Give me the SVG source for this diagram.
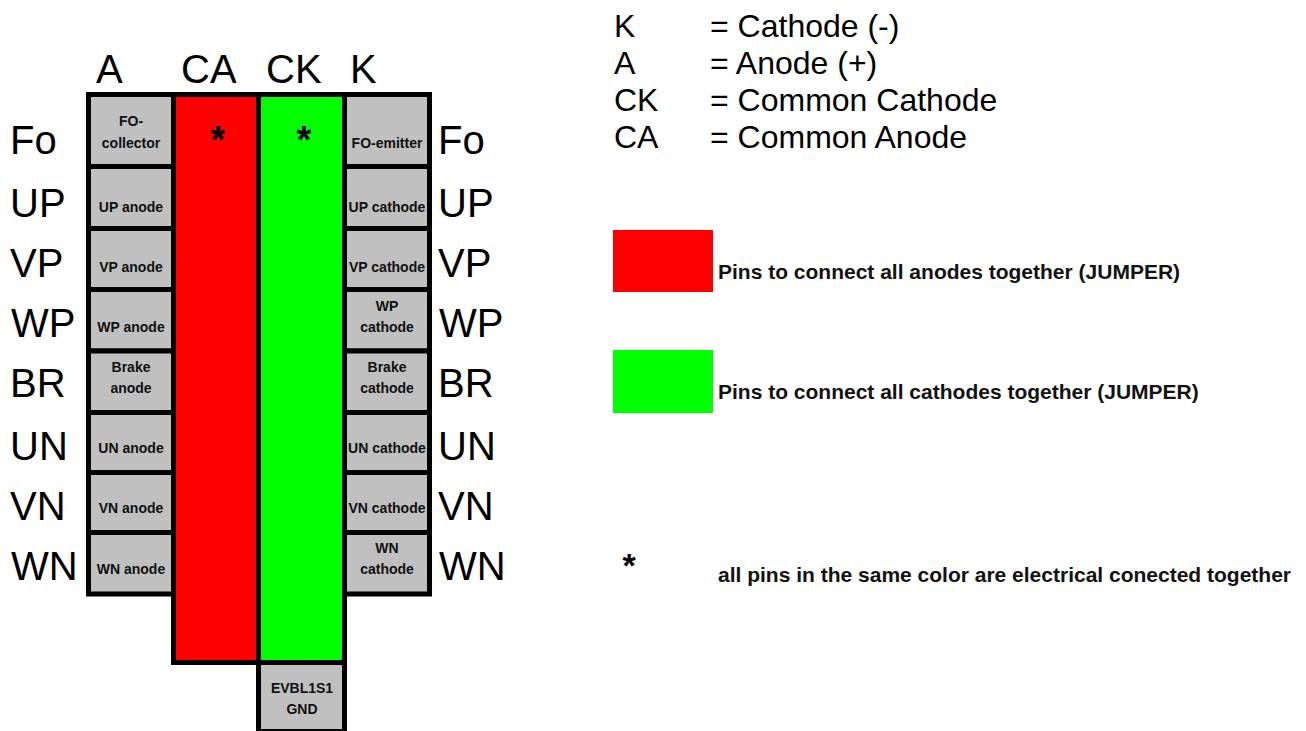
<svg xmlns="http://www.w3.org/2000/svg" width="1306" height="731" viewBox="0 0 1306 731">
<style>
text{font-family:"Liberation Sans",Arial,sans-serif;fill:#000}
.cell{fill:#c0c0c0;stroke:#000;stroke-width:5}
.ca{fill:#ff0000;stroke:#000;stroke-width:5}
.ck{fill:#00ff00;stroke:#000;stroke-width:5}
.hdr{font-size:40px}
.row{font-size:40px}
.pin{font-size:14px;font-weight:bold;text-anchor:middle;fill:#111}
.star{font-size:38px;font-weight:bold;text-anchor:middle}
.leg{font-size:32px}
.note{font-size:21px;font-weight:bold;fill:#111}
</style>
<rect width="1306" height="731" fill="#fff"/>

<g id="headers">
<text class="hdr" x="96" y="83">A</text>
<text class="hdr" x="181" y="83">CA</text>
<text class="hdr" x="266" y="83">CK</text>
<text class="hdr" x="350" y="83">K</text>
</g>

<g id="row-labels-left">
<text class="row" x="10" y="154">Fo</text>
<text class="row" x="10" y="217">UP</text>
<text class="row" x="10" y="277">VP</text>
<text class="row" x="11" y="337">WP</text>
<text class="row" x="10" y="397">BR</text>
<text class="row" x="10" y="460">UN</text>
<text class="row" x="10" y="520">VN</text>
<text class="row" x="11" y="580">WN</text>
</g>
<g id="row-labels-right">
<text class="row" x="438" y="154">Fo</text>
<text class="row" x="438" y="217">UP</text>
<text class="row" x="438" y="277">VP</text>
<text class="row" x="439" y="337">WP</text>
<text class="row" x="438" y="397">BR</text>
<text class="row" x="438" y="460">UN</text>
<text class="row" x="438" y="520">VN</text>
<text class="row" x="439" y="580">WN</text>
</g>

<g id="CA-bar">
<rect class="ca" x="173.5" y="94.5" width="85" height="568"/>
<text class="star" x="218" y="153">*</text>
</g>
<g id="CK-bar">
<rect class="ck" x="258.5" y="94.5" width="86" height="568"/>
<text class="star" x="304" y="153">*</text>
</g>

<g id="FO-collector">
<rect class="cell" x="88.5" y="94.5" width="85" height="72"/>
<text class="pin" x="131" y="126">FO-</text>
<text class="pin" x="131" y="148">collector</text>
</g>
<g id="UP-anode">
<rect class="cell" x="88.5" y="166.5" width="85" height="62"/>
<text class="pin" x="131" y="212">UP anode</text>
</g>
<g id="VP-anode">
<rect class="cell" x="88.5" y="228.5" width="85" height="61"/>
<text class="pin" x="131" y="272">VP anode</text>
</g>
<g id="WP-anode">
<rect class="cell" x="88.5" y="289.5" width="85" height="61.5"/>
<text class="pin" x="131" y="332">WP anode</text>
</g>
<g id="Brake-anode">
<rect class="cell" x="88.5" y="351" width="85" height="61.5"/>
<text class="pin" x="131" y="372">Brake</text>
<text class="pin" x="131" y="393">anode</text>
</g>
<g id="UN-anode">
<rect class="cell" x="88.5" y="412.5" width="85" height="60"/>
<text class="pin" x="131" y="453">UN anode</text>
</g>
<g id="VN-anode">
<rect class="cell" x="88.5" y="472.5" width="85" height="60"/>
<text class="pin" x="131" y="513">VN anode</text>
</g>
<g id="WN-anode">
<rect class="cell" x="88.5" y="532.5" width="85" height="61.5"/>
<text class="pin" x="131" y="574">WN anode</text>
</g>

<g id="FO-emitter">
<rect class="cell" x="344.5" y="94.5" width="85" height="72"/>
<text class="pin" x="387" y="148">FO-emitter</text>
</g>
<g id="UP-cathode">
<rect class="cell" x="344.5" y="166.5" width="85" height="62"/>
<text class="pin" x="387" y="212">UP cathode</text>
</g>
<g id="VP-cathode">
<rect class="cell" x="344.5" y="228.5" width="85" height="61"/>
<text class="pin" x="387" y="272">VP cathode</text>
</g>
<g id="WP-cathode">
<rect class="cell" x="344.5" y="289.5" width="85" height="61.5"/>
<text class="pin" x="387" y="311">WP</text>
<text class="pin" x="387" y="332">cathode</text>
</g>
<g id="Brake-cathode">
<rect class="cell" x="344.5" y="351" width="85" height="61.5"/>
<text class="pin" x="387" y="372">Brake</text>
<text class="pin" x="387" y="393">cathode</text>
</g>
<g id="UN-cathode">
<rect class="cell" x="344.5" y="412.5" width="85" height="60"/>
<text class="pin" x="387" y="453">UN cathode</text>
</g>
<g id="VN-cathode">
<rect class="cell" x="344.5" y="472.5" width="85" height="60"/>
<text class="pin" x="387" y="513">VN cathode</text>
</g>
<g id="WN-cathode">
<rect class="cell" x="344.5" y="532.5" width="85" height="61.5"/>
<text class="pin" x="387" y="553">WN</text>
<text class="pin" x="387" y="574">cathode</text>
</g>

<g id="EVBL1S1-GND">
<rect class="cell" x="258.5" y="662.5" width="86" height="69"/>
<text class="pin" x="302" y="693">EVBL1S1</text>
<text class="pin" x="302" y="714">GND</text>
</g>

<g id="legend-abbrev">
<text class="leg" x="614" y="37">K<tspan x="710">= Cathode (-)</tspan></text>
<text class="leg" x="614" y="74">A<tspan x="710">= Anode (+)</tspan></text>
<text class="leg" x="614" y="111">CK<tspan x="710">= Common Cathode</tspan></text>
<text class="leg" x="614" y="148">CA<tspan x="710">= Common Anode</tspan></text>
</g>

<g id="legend-red">
<rect x="613" y="230" width="100" height="62" fill="#ff0000"/>
<text class="note" x="718" y="279">Pins to connect all anodes together (JUMPER)</text>
</g>
<g id="legend-green">
<rect x="613" y="350" width="100" height="63" fill="#00ff00"/>
<text class="note" x="718" y="399">Pins to connect all cathodes together (JUMPER)</text>
</g>
<g id="legend-note">
<text class="star" x="629" y="577" style="font-size:34px">*</text>
<text class="note" x="718" y="582">all pins in the same color are electrical conected together</text>
</g>
</svg>
